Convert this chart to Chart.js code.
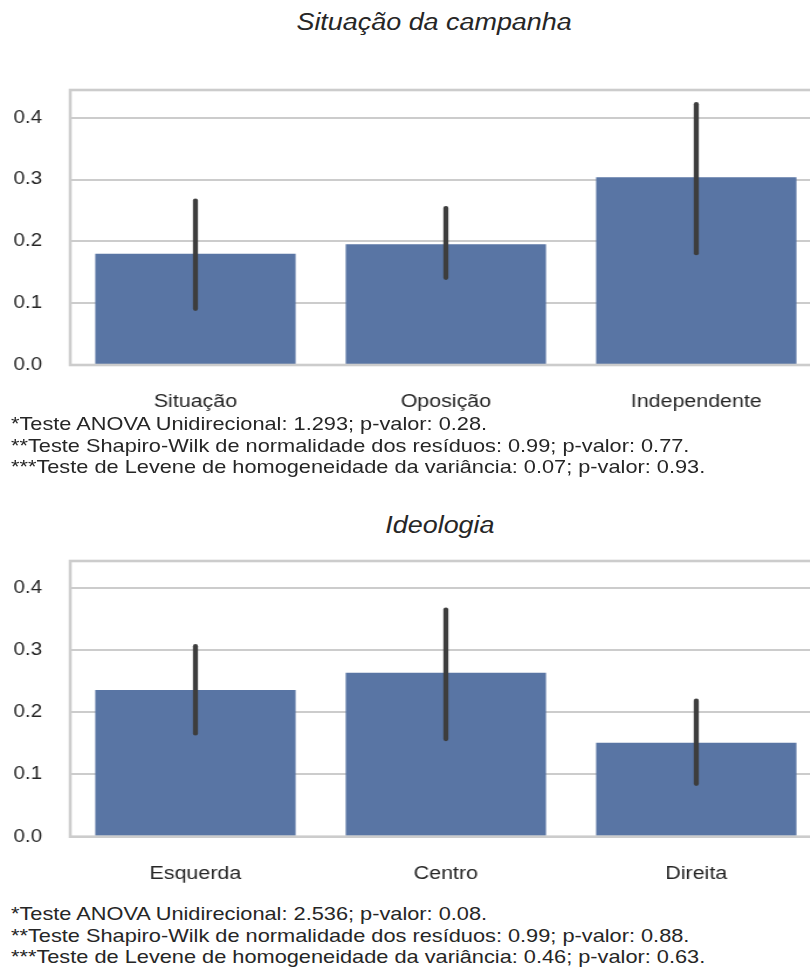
<!DOCTYPE html>
<html>
<head>
<meta charset="utf-8">
<script src="https://cdn.jsdelivr.net/npm/chart.js@4"></script>
<style>
  html, body { margin: 0; padding: 0; background: #fff; overflow: hidden; }
  body { width: 810px; height: 969px; position: relative; font-family: "Liberation Sans", Arial, sans-serif; color: #262626; }
  /* the reference figure is stretched horizontally by about 1.17 */
  .stretch { position: absolute; transform: scaleX(1.17); transform-origin: 0 0; }
  .title { text-align: center; font-style: italic; font-size: 23px; line-height: 26px; left: 0; }
  .notes { font-size: 18.6px; line-height: 21.7px; white-space: nowrap; left: 11px; }
  canvas { position: absolute; left: 0; }
</style>
</head>
<body>
  <div class="stretch title" style="top: 9px; width: 742px;">Situação da campanha</div>
  <canvas id="chartCampanha" width="705" height="340" style="top: 80px; width: 825px; height: 340px;"></canvas>
  <div class="stretch notes" style="top: 413px;">
    *Teste ANOVA Unidirecional: 1.293; p-valor: 0.28.<br>
    **Teste Shapiro-Wilk de normalidade dos resíduos: 0.99; p-valor: 0.77.<br>
    ***Teste de Levene de homogeneidade da variância: 0.07; p-valor: 0.93.
  </div>

  <div class="stretch title" style="top: 512px; width: 752px;">Ideologia</div>
  <canvas id="chartIdeologia" width="705" height="340" style="top: 551px; width: 825px; height: 340px;"></canvas>
  <div class="stretch notes" style="top: 903px;">
    *Teste ANOVA Unidirecional: 2.536; p-valor: 0.08.<br>
    **Teste Shapiro-Wilk de normalidade dos resíduos: 0.99; p-valor: 0.88.<br>
    ***Teste de Levene de homogeneidade da variância: 0.46; p-valor: 0.63.
  </div>

<script>
// Situação da campanha
const campanhaLabels = ['Situação', 'Oposição', 'Independente'];
const campanhaMeans = [0.180, 0.1955, 0.304];
const campanhaLow = [0.091, 0.141, 0.181];
const campanhaHigh = [0.266, 0.254, 0.422];

// Ideologia
const ideologiaLabels = ['Esquerda', 'Centro', 'Direita'];
const ideologiaMeans = [0.2357, 0.2635, 0.151];
const ideologiaLow = [0.166, 0.157, 0.085];
const ideologiaHigh = [0.306, 0.365, 0.2185];

const yTickValues = [0.0, 0.1, 0.2, 0.3, 0.4];

const FONT = '"Liberation Sans", Arial, sans-serif';
const BAR_COLOR = '#5975a4';
const GRID_COLOR = '#cccccc';
const TEXT_COLOR = '#262626';

// frame around the plot area (seaborn whitegrid spines)
const framePlugin = {
    id: 'frame',
    afterDatasetsDraw(chart) {
        const { ctx, chartArea } = chart;
        ctx.save();
        ctx.strokeStyle = GRID_COLOR;
        ctx.lineWidth = 2.6;
        ctx.strokeRect(chartArea.left, chartArea.top,
            chartArea.right - chartArea.left, chartArea.bottom - chartArea.top);
        ctx.restore();
    }
};

// vertical confidence interval lines
const errorBarPlugin = {
    id: 'errorBars',
    afterDatasetsDraw(chart, args, opts) {
        const { ctx } = chart;
        const y = chart.scales.y;
        const meta = chart.getDatasetMeta(0);
        ctx.save();
        ctx.strokeStyle = '#3d3d3d';
        ctx.lineWidth = 4.3;
        ctx.lineCap = 'round';
        meta.data.forEach((bar, i) => {
            ctx.beginPath();
            ctx.moveTo(bar.x, y.getPixelForValue(opts.low[i]));
            ctx.lineTo(bar.x, y.getPixelForValue(opts.high[i]));
            ctx.stroke();
        });
        ctx.restore();
    }
};

function makeChart(canvasId, labels, means, low, high, yMax, padBottom) {
    const ctx = document.getElementById(canvasId);
    return new Chart(ctx, {
        type: 'bar',
        data: {
            labels: labels,
            datasets: [{
                data: means,
                backgroundColor: BAR_COLOR,
                borderWidth: 0,
                categoryPercentage: 1.0,
                barPercentage: 0.8
            }]
        },
        options: {
            responsive: false,
            animation: false,
            events: [],
            layout: {
                padding: { top: 10, right: 3, bottom: padBottom, left: 0 }
            },
            plugins: {
                legend: { display: false },
                tooltip: { enabled: false },
                errorBars: { low: low, high: high }
            },
            scales: {
                x: {
                    afterFit: scale => {
                        scale.height = 46;
                        scale.paddingLeft = 0;
                        scale.paddingRight = 0;
                    },
                    grid: { display: false, drawTicks: false },
                    border: { display: false },
                    ticks: {
                        padding: 26,
                        color: TEXT_COLOR,
                        font: { family: FONT, size: 18.3 }
                    }
                },
                y: {
                    min: 0,
                    max: yMax,
                    afterBuildTicks: scale => {
                        scale.ticks = yTickValues.map(v => ({ value: v }));
                    },
                    afterFit: scale => {
                        scale.width = 60;
                        scale.paddingTop = 0;
                        scale.paddingBottom = 0;
                    },
                    grid: { color: GRID_COLOR, lineWidth: 2, drawTicks: false },
                    border: { display: false },
                    ticks: {
                        padding: 24,
                        color: TEXT_COLOR,
                        font: { family: FONT, size: 17.6 },
                        callback: value => value.toFixed(1)
                    }
                }
            }
        },
        plugins: [framePlugin, errorBarPlugin]
    });
}

makeChart('chartCampanha', campanhaLabels, campanhaMeans, campanhaLow, campanhaHigh, 0.445, 9);
makeChart('chartIdeologia', ideologiaLabels, ideologiaMeans, ideologiaLow, ideologiaHigh, 0.443, 8.3);
</script>
</body>
</html>
